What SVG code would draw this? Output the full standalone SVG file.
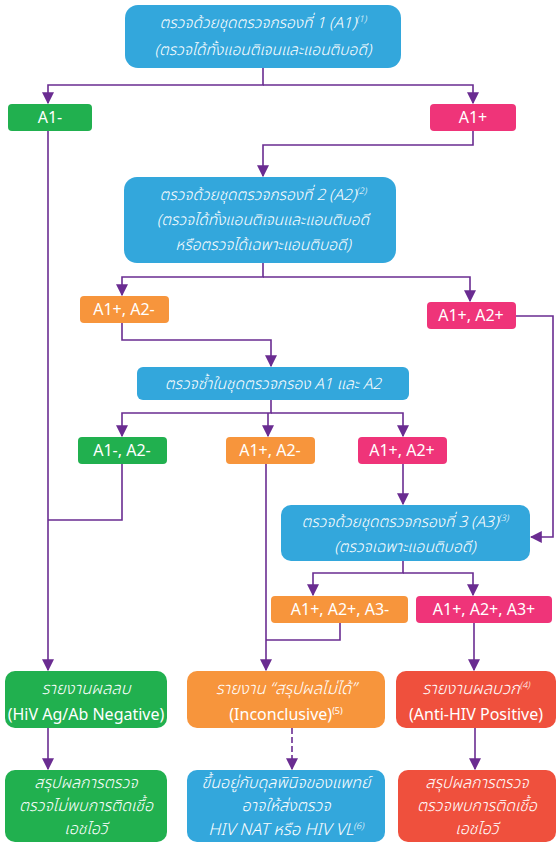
<svg xmlns="http://www.w3.org/2000/svg" width="557" height="844" viewBox="0 0 557 844">
  <defs>
    <marker id="arrow" viewBox="0 0 10 10" refX="9" refY="5" markerWidth="12" markerHeight="12" markerUnits="userSpaceOnUse" orient="auto">
      <path d="M0,0 L10,5 L0,10 Z" fill="#6a2c91"/>
    </marker>
    <style>
      .blue { fill: #33a7dc; }
      .green { fill: #21b04f; }
      .pink { fill: #ef3479; }
      .orange { fill: #f7953c; }
      .red { fill: #ef503d; }
      .th { font-family: "Noto Sans Thai", "Noto Sans", "DejaVu Sans", sans-serif; font-style: italic; font-weight: 300; font-size: 15.5px; fill: #ffffff; text-anchor: middle; }
      .big { font-size: 16.5px; }
      .foot { font-size: 16px; }
      .lbl { font-family: "Noto Sans", "Open Sans", "DejaVu Sans", sans-serif; font-size: 16px; fill: #ffffff; text-anchor: middle; }
      .en { font-family: "Noto Sans", "Open Sans", "DejaVu Sans", sans-serif; font-size: 16px; fill: #ffffff; text-anchor: middle; }
      .sup { font-size: 9px; }
      .wire { fill: none; stroke: #6a2c91; stroke-width: 1.6; }
      .dash { stroke-dasharray: 6 3; }
    </style>
  </defs>

  <!-- connectors -->
  <g id="connectors">
    <path class="wire" d="M263,68 V85 H48 V103" marker-end="url(#arrow)"/>
    <path class="wire" d="M263,85 H473 V103" marker-end="url(#arrow)"/>
    <path class="wire" d="M473,131 V145 H263 V176" marker-end="url(#arrow)"/>
    <path class="wire" d="M263,263 V277 H122 V295" marker-end="url(#arrow)"/>
    <path class="wire" d="M263,277 H470 V301" marker-end="url(#arrow)"/>
    <path class="wire" d="M122,323 V340 H271 V366" marker-end="url(#arrow)"/>
    <path class="wire" d="M516,316 H553 V537 H531" marker-end="url(#arrow)"/>
    <path class="wire" d="M271,400 V413 H122 V436" marker-end="url(#arrow)"/>
    <path class="wire" d="M271,413 H403 V436" marker-end="url(#arrow)"/>
    <path class="wire" d="M268,413 V436" marker-end="url(#arrow)"/>
    <path class="wire" d="M48,131 V670" marker-end="url(#arrow)"/>
    <path class="wire" d="M122,464 V520 H48"/>
    <path class="wire" d="M266,464 V670" marker-end="url(#arrow)"/>
    <path class="wire" d="M403,464 V504" marker-end="url(#arrow)"/>
    <path class="wire" d="M403,560 V573 H313 V595" marker-end="url(#arrow)"/>
    <path class="wire" d="M403,573 H473 V595" marker-end="url(#arrow)"/>
    <path class="wire" d="M340,623 V640 H266"/>
    <path class="wire" d="M474,623 V670" marker-end="url(#arrow)"/>
    <path class="wire" d="M48,728 V769" marker-end="url(#arrow)"/>
    <path class="wire dash" d="M292,728 V769" marker-end="url(#arrow)"/>
    <path class="wire" d="M475,728 V769" marker-end="url(#arrow)"/>
  </g>

  <g id="screen1">
    <rect class="blue" x="125" y="5" width="276" height="63" rx="13"/>
    <text class="th" x="263" y="28">ตรวจด้วยชุดตรวจกรองที่ 1 (A1)<tspan class="sup" dy="-6">(1)</tspan></text>
    <text class="th" x="263" y="55">(ตรวจได้ทั้งแอนติเจนและแอนติบอดี)</text>
  </g>

  <g id="a1neg">
    <rect class="green" x="8" y="104" width="84" height="27" rx="4"/>
    <text class="lbl" x="50" y="123">A1-</text>
  </g>

  <g id="a1pos">
    <rect class="pink" x="430" y="104" width="86" height="27" rx="4"/>
    <text class="lbl" x="473" y="123">A1+</text>
  </g>

  <g id="screen2">
    <rect class="blue" x="124" y="177" width="272" height="86" rx="13"/>
    <text class="th" x="263" y="200">ตรวจด้วยชุดตรวจกรองที่ 2 (A2)<tspan class="sup" dy="-6">(2)</tspan></text>
    <text class="th" x="263" y="225">(ตรวจได้ทั้งแอนติเจนและแอนติบอดี</text>
    <text class="th" x="263" y="250">หรือตรวจได้เฉพาะแอนติบอดี)</text>
  </g>

  <g id="a1pos-a2neg">
    <rect class="orange" x="80" y="296" width="89" height="27" rx="4"/>
    <text class="lbl" x="124" y="315">A1+, A2-</text>
  </g>

  <g id="a1pos-a2pos">
    <rect class="pink" x="427" y="302" width="89" height="27" rx="4"/>
    <text class="lbl" x="471" y="321">A1+, A2+</text>
  </g>

  <g id="retest">
    <rect class="blue" x="137" y="367" width="272" height="33" rx="6"/>
    <text class="th" x="273" y="389">ตรวจซ้ำในชุดตรวจกรอง A1 และ A2</text>
  </g>

  <g id="r-a1neg-a2neg">
    <rect class="green" x="78" y="437" width="89" height="27" rx="4"/>
    <text class="lbl" x="122" y="456">A1-, A2-</text>
  </g>

  <g id="r-a1pos-a2neg">
    <rect class="orange" x="226" y="437" width="89" height="27" rx="4"/>
    <text class="lbl" x="270" y="456">A1+, A2-</text>
  </g>

  <g id="r-a1pos-a2pos">
    <rect class="pink" x="358" y="437" width="89" height="27" rx="4"/>
    <text class="lbl" x="402" y="456">A1+, A2+</text>
  </g>

  <g id="screen3">
    <rect class="blue" x="281" y="505" width="249" height="56" rx="10"/>
    <text class="th" x="405" y="527">ตรวจด้วยชุดตรวจกรองที่ 3 (A3)<tspan class="sup" dy="-6">(3)</tspan></text>
    <text class="th" x="405" y="552">(ตรวจเฉพาะแอนติบอดี)</text>
  </g>

  <g id="a3neg">
    <rect class="orange" x="271" y="596" width="137" height="27" rx="4"/>
    <text class="lbl" x="340" y="615">A1+, A2+, A3-</text>
  </g>

  <g id="a3pos">
    <rect class="pink" x="416" y="596" width="136" height="27" rx="4"/>
    <text class="lbl" x="484" y="615">A1+, A2+, A3+</text>
  </g>

  <g id="report-negative">
    <rect class="green" x="5" y="671" width="162" height="57" rx="10"/>
    <text class="th big" x="86" y="694">รายงานผลลบ</text>
    <text class="en" x="86" y="720">(HiV Ag/Ab Negative)</text>
  </g>

  <g id="report-inconclusive">
    <rect class="orange" x="187" y="671" width="198" height="57" rx="10"/>
    <text class="th big" x="286" y="694">รายงาน “สรุปผลไม่ได้”</text>
    <text class="en" x="286" y="720">(Inconclusive)<tspan class="sup" dy="-6">(5)</tspan></text>
  </g>

  <g id="report-positive">
    <rect class="red" x="396" y="671" width="160" height="57" rx="10"/>
    <text class="th big" x="476" y="694">รายงานผลบวก<tspan class="sup" dy="-6">(4)</tspan></text>
    <text class="en" x="476" y="720">(Anti-HIV Positive)</text>
  </g>

  <g id="result-negative">
    <rect class="green" x="5" y="770" width="162" height="72" rx="10"/>
    <text class="th foot" x="86" y="788">สรุปผลการตรวจ</text>
    <text class="th foot" x="86" y="811">ตรวจไม่พบการติดเชื้อ</text>
    <text class="th foot" x="86" y="834">เอชไอวี</text>
  </g>

  <g id="result-inconclusive">
    <rect class="blue" x="187" y="770" width="198" height="72" rx="10"/>
    <text class="th foot" x="286" y="788">ขึ้นอยู่กับดุลพินิจของแพทย์</text>
    <text class="th foot" x="286" y="811">อาจให้ส่งตรวจ</text>
    <text class="th big" x="286" y="835">HIV NAT หรือ HIV VL<tspan class="sup" dy="-6">(6)</tspan></text>
  </g>

  <g id="result-positive">
    <rect class="red" x="398" y="770" width="158" height="72" rx="10"/>
    <text class="th foot" x="477" y="788">สรุปผลการตรวจ</text>
    <text class="th foot" x="477" y="811">ตรวจพบการติดเชื้อ</text>
    <text class="th foot" x="477" y="834">เอชไอวี</text>
  </g>
</svg>
